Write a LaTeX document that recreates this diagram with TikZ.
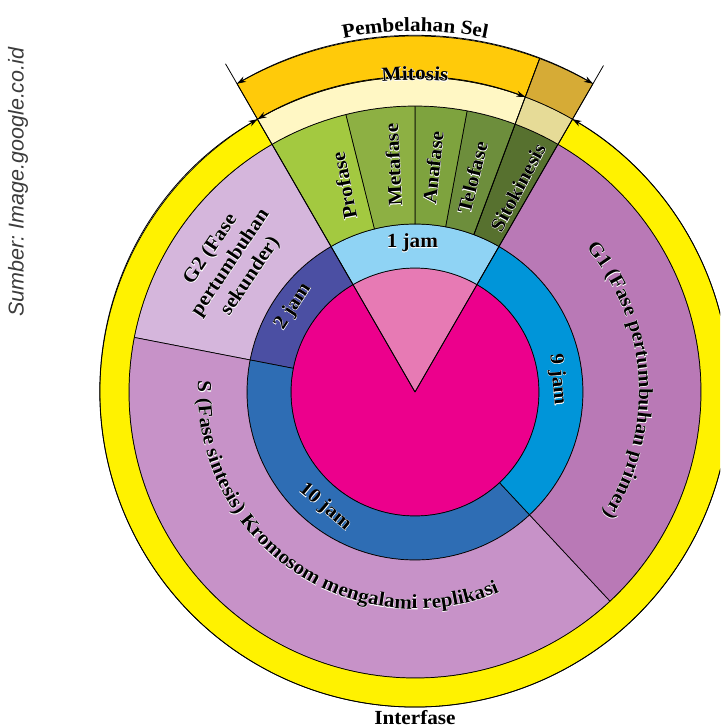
\documentclass[tikz,border=0pt]{standalone}
\usepackage{fontspec}
\setmainfont{Liberation Serif}
\newfontfamily\boldlab{Liberation Serif Bold}[FakeStretch=1.06]
\newfontfamily\halolab{Liberation Serif Bold}[FakeStretch=1.06,FakeBold=3]
\newfontfamily\srcfont{Liberation Sans Italic}
\usetikzlibrary{arrows.meta,decorations.text}
\definecolor{cYellow}{RGB}{255,242,0}
\definecolor{cGold}{RGB}{255,202,10}
\definecolor{cGoldDk}{RGB}{214,171,54}
\definecolor{cCream}{RGB}{255,247,196}
\definecolor{cCreamDk}{RGB}{230,219,151}
\definecolor{cPro}{RGB}{163,201,64}
\definecolor{cMeta}{RGB}{141,176,67}
\definecolor{cAna}{RGB}{126,163,62}
\definecolor{cTelo}{RGB}{109,142,60}
\definecolor{cSito}{RGB}{87,113,47}
\definecolor{cGtwo}{RGB}{213,182,220}
\definecolor{cS}{RGB}{199,146,200}
\definecolor{cGone}{RGB}{185,121,182}
\definecolor{cTwoJ}{RGB}{75,79,163}
\definecolor{cTenJ}{RGB}{46,109,180}
\definecolor{cNineJ}{RGB}{0,149,217}
\definecolor{cOneJ}{RGB}{143,211,244}
\definecolor{cMag}{RGB}{236,0,140}
\definecolor{cPink}{RGB}{231,122,180}
\definecolor{cSrc}{RGB}{60,60,60}
\newcommand\hl[1]{\rlap{\halolab \color{white}#1}{\boldlab #1}}
\newcommand\sect[5]{\filldraw[sectline,fill=#1] (#2:#4pt) arc[start angle=#2,end angle=#3,radius=#4pt] -- (#3:#5pt) arc[start angle=#3,end angle=#2,radius=#5pt] -- cycle;}
\newcommand\arctext[4]{%
 \path[decorate,decoration={text along path,text align=center,text color=white,text={|\halolab \fontsize{20}{20}\selectfont|#1}}] (#3:#2pt) arc[start angle=#3,end angle=#4,radius=#2pt];
 \path[decorate,decoration={text along path,text align=center,text color=black,text={|\boldlab \fontsize{20}{20}\selectfont|#1}}] (#3:#2pt) arc[start angle=#3,end angle=#4,radius=#2pt];}
\tikzset{
 sectline/.style={draw=black,line width=0.7pt,line join=round},
 lbl/.style={font=\fontsize{20}{24}\selectfont,inner sep=0pt,align=center},
 arr/.style={line width=0.8pt,{Stealth[length=9pt,width=6pt]}-{Stealth[length=9pt,width=6pt]}},
 radline/.style={draw=black,line width=0.8pt}
}
\begin{document}
\begin{tikzpicture}
\useasboundingbox (-415pt,-336pt) rectangle (305pt,392pt);
\clip (-415pt,-336pt) rectangle (305pt,392pt);
% inner disc
\filldraw[sectline,fill=cMag] (0,0) circle[radius=124pt];
\filldraw[sectline,fill=cPink] (0,0) -- (60:124pt) arc[start angle=60,end angle=120,radius=124pt] -- cycle;
% time ring
\sect{cOneJ}{60}{120}{124}{168}
\sect{cTwoJ}{120}{169}{124}{168}
\sect{cTenJ}{169}{313}{124}{168}
\sect{cNineJ}{-47}{60}{124}{168}
% phase ring
\sect{cSito}{60}{69.5}{168}{286}
\sect{cTelo}{69.5}{79.5}{168}{286}
\sect{cAna}{79.5}{90}{168}{286}
\sect{cMeta}{90}{104}{168}{286}
\sect{cPro}{104}{120}{168}{286}
\sect{cGtwo}{120}{169}{168}{286}
\sect{cS}{169}{313}{168}{286}
\sect{cGone}{-47}{60}{168}{286}
% outer bands
\sect{cYellow}{120}{420}{286}{315}
\sect{cCream}{69.5}{120}{286}{315}
\sect{cCreamDk}{60}{69.5}{286}{315}
\sect{cGold}{69.5}{120}{315}{356}
\sect{cGoldDk}{60}{69.5}{315}{356}
% radial lines
\draw[radline] (0,0) -- (120:379pt);
\draw[radline] (0,0) -- (60:377pt);
\draw[radline] (69.5:168pt) -- (69.5:356pt);
% arrows
\draw[arr] (120:315pt) arc[start angle=120,end angle=420,radius=315pt];
\draw[arr] (120:315pt) arc[start angle=120,end angle=69.5,radius=315pt];
\draw[arr] (120:356pt) arc[start angle=120,end angle=60,radius=356pt];
% curved labels
\arctext{Pembelahan Sel}{361}{130}{50}
\arctext{Mitosis}{312}{110}{70}
\arctext{G1 (Fase pertumbuhan primer)}{224}{49}{-42}
\arctext{S (Fase sintesis) Kromosom mengalami replikasi}{217}{175}{295}
% straight labels
\node[lbl,rotate=101] (profase) at (109:218pt) {\hl{Profase}};
\node[lbl,rotate=93] (metafase) at (95.5:228pt) {\hl{Metafase}};
\node[lbl,rotate=84] (anafase) at (85.4:225pt) {\hl{Anafase}};
\node[lbl,rotate=76] (telofase) at (75:222pt) {\hl{Telofase}};
\node[lbl,rotate=62] (sitokinesis) at (63.3:229pt) {\hl{Sitokinesis}};
\node[lbl] (onejam) at (91:149pt) {\hl{1 jam}};
\node[lbl,rotate=57] (twojam) at (145:149pt) {\hl{2 jam}};
\node[lbl,rotate=-85] (ninejam) at (5:143pt) {\hl{9 jam}};
\node[lbl,rotate=-40] (tenjam) at (232:146pt) {\hl{10 jam}};
\node[lbl,rotate=56] (gtwo) at (145:225pt) {\hl{G2 (Fase}\\\hl{pertumbuhan}\\\hl{sekunder)}};
\node[lbl,anchor=base] (interfase) at (0pt,-332pt) {\hl{Interfase}};
\node[rotate=90,inner sep=0pt,text=cSrc,font=\srcfont\fontsize{21.5}{21.5}\selectfont] (src) at (-397pt,210pt) {Sumber:\ Image.google.co.id};
\end{tikzpicture}
\end{document}
